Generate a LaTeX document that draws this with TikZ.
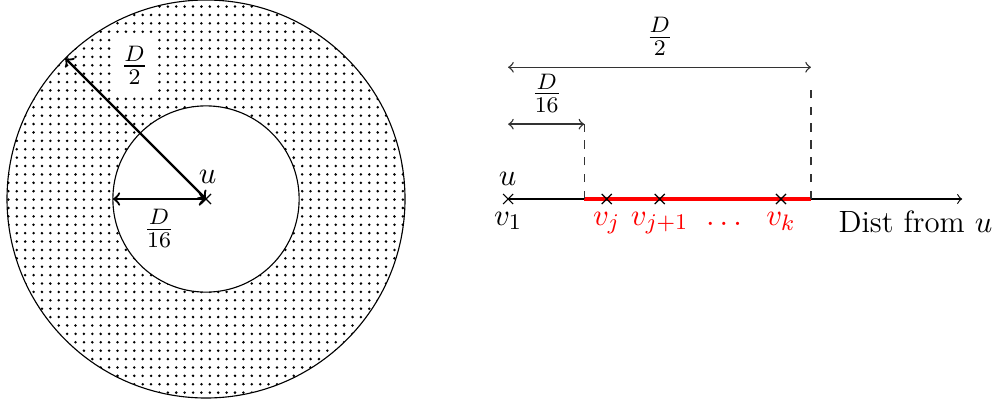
\documentclass[tikz,border=0pt]{standalone}
\usetikzlibrary{patterns,shapes.misc}
\begin{document}
\begin{tikzpicture}[
  every node/.style={font=\fontsize{11}{13.5}\selectfont},
  tickmark/.style={draw, cross out, minimum size=3.2pt, inner sep=0pt, line width=0.4pt},
  dimarrow/.style={<->, black!80, line width=0.5pt},
  guide/.style={dashed, black!80, line width=0.45pt},
  radarrow/.style={<->, thick},
  ringline/.style={circle, draw, inner sep=0pt, outer sep=0pt, line width=0.4pt},
]
\useasboundingbox (-2.588,-2.538) rectangle (10.0,2.5);
% left: annulus
\node[ringline, pattern=dots, minimum size=5cm] (outer) at (0,0) {};
\node[ringline, fill=white, minimum size=2.34cm] (inner) at (0,0) {};
\node[tickmark] (c) at (0,0) {};
\draw[radarrow] (c.center) -- (outer.135);
\draw[radarrow] (c.center) -- (inner.west);
\node[fill=white] (half) at (-0.898,1.68) {$\frac{D}{2}$};
\node (sixteenth) at (-0.59,-0.37) {$\frac{D}{16}$};
\node (ulbl) at (0.02,0.283) {$u$};
% right: axis
\coordinate (p1) at (3.795,0);
\coordinate (pj) at (5.034,0);
\coordinate (pj1) at (5.70,0);
\coordinate (pk) at (7.223,0);
\coordinate (axend) at (9.5,0);
\coordinate (a) at (4.752,0);
\coordinate (b) at (7.60,0);
\coordinate (atop) at (4.752,0.94);
\coordinate (btop) at (7.60,1.43);
\coordinate (l16) at (3.795,0.94);
\coordinate (l2) at (3.795,1.655);
\coordinate (r2) at (7.60,1.655);
\draw[->, line width=0.4pt] (p1) -- (axend);
\draw[red, line width=1.1pt] (a) -- (b);
\draw[guide] (a) -- (atop);
\draw[guide] (b) -- (btop);
\draw[dimarrow] (l16) -- (atop);
\draw[dimarrow] (l2) -- (r2);
\node[tickmark] (v1) at (p1) {};
\node[tickmark] (vj) at (pj) {};
\node[tickmark] (vj1) at (pj1) {};
\node[tickmark] (vk) at (pk) {};
\node (d16r) at (4.28,1.33) {$\frac{D}{16}$};
\node (d2r) at (5.70,2.04) {$\frac{D}{2}$};
\node (ur) at (3.79,0.25) {$u$};
\node[anchor=base] (lv1) at (3.795,-0.327) {$v_1$};
\node[anchor=base, red] (lvj) at (5.034,-0.327) {$v_j$};
\node[anchor=base, red] (lvj1) at (5.70,-0.327) {$v_{j+1}$};
\node[anchor=base, red] (ldots) at (6.507,-0.327) {$\dots$};
\node[anchor=base, red] (lvk) at (7.223,-0.327) {$v_k$};
\node[anchor=base west, inner sep=0pt] (dist) at (7.94,-0.425) {Dist from $u$};
\end{tikzpicture}
\end{document}
